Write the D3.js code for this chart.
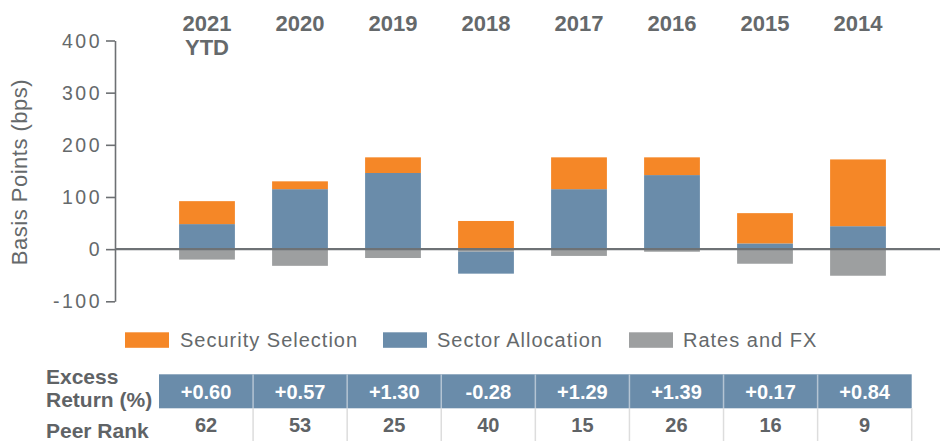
<!DOCTYPE html>
<html>
<head>
<meta charset="utf-8">
<script src="https://cdn.jsdelivr.net/npm/d3@7"></script>
<style>
  html, body { margin: 0; padding: 0; background: #fff; }
  svg { display: block; font-family: "Liberation Sans", Arial, sans-serif; }
</style>
</head>
<body>
<svg id="chart" width="940" height="441"></svg>
<script>
const categories = ["2021 YTD", "2020", "2019", "2018", "2017", "2016", "2015", "2014"];
const securitySelection = [44, 15, 30, 54, 61, 34, 58, 128];
const sectorAllocation = [48, 115, 146, -42, 115, 142, 11, 44];
const ratesFX = [-20, -32, -17, -5, -13, -5, -28, -51];
const excessReturn = ["+0.60", "+0.57", "+1.30", "-0.28", "+1.29", "+1.39", "+0.17", "+0.84"];
const peerRank = [62, 53, 25, 40, 15, 26, 16, 9];
const yTicks = [-100, 0, 100, 200, 300, 400];
const seriesNames = ["Security Selection", "Sector Allocation", "Rates and FX"];

const colors = {
  "Security Selection": "#f58727",
  "Sector Allocation": "#6a8caa",
  "Rates and FX": "#9d9fa0"
};
const textGray = "#65696b";

const svg = d3.select("#chart");

const x = d3.scaleBand().domain(categories).range([160.5, 904.5]).paddingInner(0.4).paddingOuter(0.2);
const y = d3.scaleLinear().domain([-100, 400]).range([301.3, 40.5]);

// stacked data
const rows = categories.map((c, i) => ({
  cat: c,
  "Rates and FX": ratesFX[i],
  "Sector Allocation": sectorAllocation[i],
  "Security Selection": securitySelection[i]
}));
const stack = d3.stack()
  .keys(["Rates and FX", "Sector Allocation", "Security Selection"])
  .offset(d3.stackOffsetDiverging);
const stacked = stack(rows);

svg.append("g").selectAll("g")
  .data(stacked)
  .join("g")
  .attr("fill", d => colors[d.key])
  .selectAll("rect")
  .data(d => d)
  .join("rect")
  .attr("x", d => x(d.data.cat))
  .attr("width", x.bandwidth())
  .attr("y", d => y(Math.max(d[0], d[1])))
  .attr("height", d => Math.abs(y(d[0]) - y(d[1])));

// y axis
const yAxis = d3.axisLeft(y).tickValues(yTicks).tickFormat(d => String(d))
  .tickSize(9).tickSizeOuter(0).tickPadding(4);
const gy = svg.append("g").attr("transform", "translate(115,0)").call(yAxis);
gy.select(".domain").attr("stroke", "#6d7073").attr("stroke-width", 1.6);
gy.selectAll(".tick line").attr("stroke", "#6d7073").attr("stroke-width", 1.6);
gy.selectAll(".tick text")
  .attr("fill", textGray)
  .style("font-size", "19.5px")
  .style("letter-spacing", "2.5px")
  .attr("dy", "0.34em");

// zero line
svg.append("line")
  .attr("x1", 115).attr("x2", 940)
  .attr("y1", y(0)).attr("y2", y(0))
  .attr("stroke", "#6e7275").attr("stroke-width", 2.2);

// y axis title
svg.append("text")
  .attr("transform", `translate(27,${172}) rotate(-90)`)
  .attr("text-anchor", "middle")
  .attr("fill", textGray)
  .style("font-size", "22px")
  .style("letter-spacing", "0.5px")
  .text("Basis Points (bps)");

// year labels at top
const yearG = svg.append("g");
categories.forEach(c => {
  const lines = c.split(" ");
  const t = yearG.append("text")
    .attr("x", x(c) + x.bandwidth() / 2)
    .attr("y", 31)
    .attr("text-anchor", "middle")
    .attr("fill", textGray)
    .style("font-size", "22px")
    .style("font-weight", "bold");
  lines.forEach((l, i) => {
    t.append("tspan").attr("x", x(c) + x.bandwidth() / 2).attr("dy", i === 0 ? 0 : 24).text(l);
  });
});

// legend
const legendPos = [{sx: 125, tx: 180}, {sx: 383, tx: 437}, {sx: 629, tx: 683}];
seriesNames.forEach((n, i) => {
  svg.append("rect")
    .attr("x", legendPos[i].sx).attr("y", 332.3)
    .attr("width", 44).attr("height", 15.5)
    .attr("fill", colors[n]);
  svg.append("text")
    .attr("x", legendPos[i].tx).attr("y", 346.5)
    .attr("fill", textGray)
    .style("font-size", "20px")
    .style("letter-spacing", "1px")
    .text(n);
});

// table
const tx = d3.scaleBand().domain(categories).range([159, 911.7]);
const tableTop = 374.3, rowMid = 408.3, tableBottom = 441;
svg.append("rect")
  .attr("x", tx.range()[0]).attr("y", tableTop)
  .attr("width", tx.range()[1] - tx.range()[0]).attr("height", rowMid - tableTop)
  .attr("fill", "#6a8caa");

categories.forEach((c, i) => {
  const cx = tx(c) + tx.bandwidth() / 2;
  svg.append("text")
    .attr("x", cx).attr("y", 399)
    .attr("text-anchor", "middle")
    .attr("fill", "#ffffff")
    .style("font-size", "20px").style("font-weight", "bold")
    .text(excessReturn[i]);
  svg.append("text")
    .attr("x", cx).attr("y", 432)
    .attr("text-anchor", "middle")
    .attr("fill", "#5f6366")
    .style("font-size", "20px").style("font-weight", "bold")
    .text(peerRank[i]);
  if (i > 0) {
    svg.append("line")
      .attr("x1", tx(c)).attr("x2", tx(c))
      .attr("y1", tableTop).attr("y2", rowMid)
      .attr("stroke", "#b4c4d3").attr("stroke-width", 1.5);
    svg.append("line")
      .attr("x1", tx(c)).attr("x2", tx(c))
      .attr("y1", rowMid).attr("y2", tableBottom)
      .attr("stroke", "#dddddd").attr("stroke-width", 1.5);
  }
});
svg.append("line")
  .attr("x1", tx.range()[1]).attr("x2", tx.range()[1])
  .attr("y1", rowMid).attr("y2", tableBottom)
  .attr("stroke", "#dddddd").attr("stroke-width", 1.5);

// row labels
const labelStyle = sel => sel.attr("fill", "#5f6366").style("font-size", "21px").style("font-weight", "bold");
svg.append("text").attr("x", 46).attr("y", 384).call(labelStyle).text("Excess");
svg.append("text").attr("x", 46).attr("y", 407).call(labelStyle).text("Return (%)");
svg.append("text").attr("x", 46).attr("y", 438).call(labelStyle).text("Peer Rank");
</script>
</body>
</html>
